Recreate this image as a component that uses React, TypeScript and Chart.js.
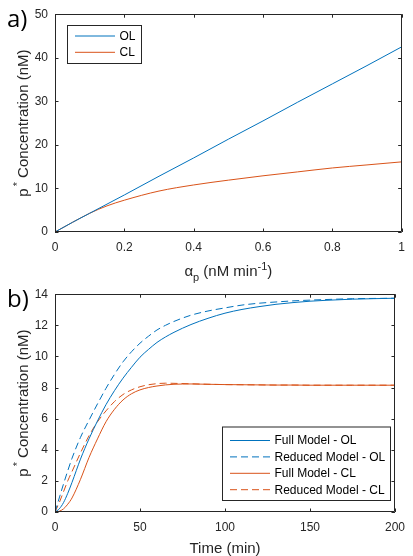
import React, { useEffect, useRef } from "react";
import { Chart, registerables } from "chart.js";
Chart.register(...registerables);

// ---- Panel a) data ----
const alphaP = [0, 0.05, 0.1, 0.15, 0.2, 0.3, 0.4, 0.5, 0.6, 0.7, 0.8, 0.9, 1.0];
const olSteady = [0, 2.2, 4.3, 6.4, 8.5, 12.8, 17.0, 21.3, 25.5, 29.8, 34.0, 38.2, 42.5];
const clSteady = [0, 2.2, 4.3, 6.0, 7.3, 9.4, 10.8, 11.9, 12.9, 13.8, 14.7, 15.4, 16.1];
const aXTicks = [0, 0.2, 0.4, 0.6, 0.8, 1];
const aYTicks = [0, 10, 20, 30, 40, 50];

// ---- Panel b) data ----
const timeMin = [0, 2.5, 5, 7.5, 10, 15, 20, 25, 30, 35, 40, 45, 50, 55, 60, 65, 70, 80, 90, 100, 110, 120, 130, 140, 150, 160, 175, 200];
const fullOL = [0, 0.2, 0.6, 1.2, 1.9, 3.4, 4.7, 5.85, 6.9, 7.8, 8.6, 9.3, 9.95, 10.45, 10.9, 11.25, 11.55, 12.05, 12.45, 12.78, 13.02, 13.2, 13.35, 13.46, 13.55, 13.61, 13.68, 13.74];
const reducedOL = [0, 0.9, 1.8, 2.65, 3.45, 4.8, 5.9, 6.95, 7.95, 8.85, 9.65, 10.3, 10.85, 11.3, 11.7, 12.0, 12.25, 12.65, 12.92, 13.12, 13.3, 13.42, 13.5, 13.57, 13.62, 13.66, 13.71, 13.74];
const fullCL = [0, 0.05, 0.2, 0.5, 0.9, 2.1, 3.5, 4.7, 5.8, 6.6, 7.2, 7.6, 7.85, 8.0, 8.1, 8.17, 8.21, 8.23, 8.21, 8.19, 8.18, 8.17, 8.16, 8.16, 8.15, 8.15, 8.15, 8.15];
const reducedCL = [0, 0.6, 1.3, 2.0, 2.6, 3.8, 4.9, 5.8, 6.5, 7.1, 7.55, 7.85, 8.05, 8.18, 8.25, 8.28, 8.27, 8.24, 8.21, 8.19, 8.18, 8.17, 8.16, 8.16, 8.15, 8.15, 8.15, 8.15];
const bXTicks = [0, 50, 100, 150, 200];
const bYTicks = [0, 2, 4, 6, 8, 10, 12, 14];

const BLUE = "#0072BD";
const ORANGE = "#D95319";
const AXIS = "#262626";
const FAM = '"Liberation Sans", Arial, Helvetica, sans-serif';
const font = (s: number) => `${s}px ${FAM}`;

type Part = { t: string; s: number; dy?: number; dx?: number };

function drawRich(ctx: CanvasRenderingContext2D, parts: Part[], cx: number, base: number, rotate: boolean) {
  ctx.save();
  ctx.translate(cx, base);
  if (rotate) ctx.rotate(-Math.PI / 2);
  let w = 0;
  for (const p of parts) {
    ctx.font = font(p.s);
    w += ctx.measureText(p.t).width + (p.dx || 0);
  }
  let x = -w / 2;
  ctx.textAlign = "left";
  ctx.textBaseline = "alphabetic";
  ctx.fillStyle = AXIS;
  for (const p of parts) {
    ctx.font = font(p.s);
    x += p.dx || 0;
    ctx.fillText(p.t, x, p.dy || 0);
    x += ctx.measureText(p.t).width;
  }
  ctx.restore();
}

type FrameCfg = {
  tick: number;
  legendBox: { x: number; y: number; w: number; h: number };
  lineX0: number;
  lineX1: number;
  textX: number;
  rowY: number[];
  xTitle: Part[];
  xTitleBase: number;
  yTitle: Part[];
  yTitleBase: number;
  panel: string;
  panelBase: number;
};

function framePlugin(cfg: FrameCfg) {
  return {
    id: "matlabFrame",
    afterDraw(chart: any) {
      const ctx: CanvasRenderingContext2D = chart.ctx;
      const { left, right, top, bottom } = chart.chartArea;
      const xs = chart.scales.x;
      const ys = chart.scales.y;
      ctx.save();
      ctx.strokeStyle = AXIS;
      ctx.lineWidth = 1;
      ctx.beginPath();
      ctx.rect(Math.round(left) + 0.5, Math.round(top) + 0.5, Math.round(right - left) - 1, Math.round(bottom - top) - 1);
      ctx.stroke();
      ctx.beginPath();
      for (const t of xs.ticks) {
        const px = Math.round(xs.getPixelForValue(t.value)) + 0.5;
        ctx.moveTo(px, bottom);
        ctx.lineTo(px, bottom - cfg.tick);
        ctx.moveTo(px, top);
        ctx.lineTo(px, top + cfg.tick);
      }
      for (const t of ys.ticks) {
        const py = Math.round(ys.getPixelForValue(t.value)) + 0.5;
        ctx.moveTo(left, py);
        ctx.lineTo(left + cfg.tick, py);
        ctx.moveTo(right, py);
        ctx.lineTo(right - cfg.tick, py);
      }
      ctx.stroke();

      // legend
      const b = cfg.legendBox;
      ctx.fillStyle = "#ffffff";
      ctx.fillRect(b.x, b.y, b.w, b.h);
      ctx.strokeStyle = AXIS;
      ctx.strokeRect(b.x + 0.5, b.y + 0.5, b.w, b.h);
      chart.data.datasets.forEach((ds: any, i: number) => {
        const y = cfg.rowY[i];
        ctx.save();
        ctx.strokeStyle = ds.borderColor;
        ctx.lineWidth = ds.borderWidth;
        ctx.setLineDash(ds.borderDash || []);
        ctx.beginPath();
        ctx.moveTo(cfg.lineX0, y);
        ctx.lineTo(cfg.lineX1, y);
        ctx.stroke();
        ctx.restore();
        ctx.fillStyle = "#000000";
        ctx.font = font(12);
        ctx.textAlign = "left";
        ctx.textBaseline = "middle";
        ctx.fillText(ds.label, cfg.textX, y + 0.5);
      });

      // axis titles
      drawRich(ctx, cfg.xTitle, (left + right) / 2, cfg.xTitleBase, false);
      drawRich(ctx, cfg.yTitle, cfg.yTitleBase, (top + bottom) / 2, true);

      // panel label
      ctx.fillStyle = "#000000";
      ctx.font = '24px "Open Sans", "Noto Sans", sans-serif';
      ctx.textAlign = "left";
      ctx.textBaseline = "alphabetic";
      ctx.fillText(cfg.panel, 7, cfg.panelBase);
      ctx.restore();
    },
  };
}

const yTitleParts: Part[] = [
  { t: "p", s: 15 },
  { t: "*", s: 11, dy: -7, dx: 2 },
  { t: " Concentration (nM)", s: 15 },
];

function fmt(v: number) {
  return String(Number(Number(v).toFixed(2)));
}

function makeOptions(xMin: number, xMax: number, xStep: number, yMin: number, yMax: number, yStep: number, xHeight: number) {
  return {
    responsive: false,
    animation: false as const,
    devicePixelRatio: 1,
    layout: { padding: { left: 0, top: 12, right: 11, bottom: 0 } },
    plugins: { legend: { display: false }, tooltip: { enabled: false }, title: { display: false } },
    elements: { point: { radius: 0 } },
    scales: {
      x: {
        type: "linear" as const,
        min: xMin,
        max: xMax,
        grid: { display: false, drawTicks: false },
        border: { display: false },
        ticks: {
          stepSize: xStep,
          autoSkip: false,
          maxRotation: 0,
          padding: 8,
          color: AXIS,
          font: { family: FAM, size: 12 },
          callback: (v: any) => fmt(v),
        },
        afterFit: (s: any) => {
          s.height = xHeight;
        },
      },
      y: {
        type: "linear" as const,
        min: yMin,
        max: yMax,
        grid: { display: false, drawTicks: false },
        border: { display: false },
        ticks: {
          stepSize: yStep,
          autoSkip: false,
          padding: 7,
          color: AXIS,
          font: { family: FAM, size: 12 },
          callback: (v: any) => fmt(v),
        },
        afterFit: (s: any) => {
          s.width = 55;
        },
      },
    },
  };
}

const pts = (xs: number[], ys: number[]) => xs.map((x, i) => ({ x, y: ys[i] }));

export default function App() {
  const refA = useRef<HTMLCanvasElement>(null);
  const refB = useRef<HTMLCanvasElement>(null);

  useEffect(() => {
    document.body.style.margin = "0";
    const common = { pointRadius: 0, borderWidth: 1, cubicInterpolationMode: "monotone" as const, fill: false };
    const chartA = new Chart(refA.current!, {
      type: "line",
      data: {
        datasets: [
          { ...common, label: "OL", data: pts(alphaP, olSteady), borderColor: BLUE },
          { ...common, label: "CL", data: pts(alphaP, clSteady), borderColor: ORANGE },
        ],
      },
      options: makeOptions(aXTicks[0], aXTicks[aXTicks.length - 1], aXTicks[1] - aXTicks[0], aYTicks[0], aYTicks[aYTicks.length - 1], aYTicks[1] - aYTicks[0], 58) as any,
      plugins: [
        framePlugin({
          tick: 3.5,
          legendBox: { x: 67, y: 25, w: 74, h: 38 },
          lineX0: 75,
          lineX1: 115,
          textX: 119.5,
          rowY: [36, 52.3],
          xTitle: [
            { t: "α", s: 15 },
            { t: "p", s: 11, dy: 5 },
            { t: " (nM min", s: 15 },
            { t: "-1", s: 11, dy: -6 },
            { t: ")", s: 15 },
          ],
          xTitleBase: 276,
          yTitle: yTitleParts,
          yTitleBase: 28,
          panel: "a)",
          panelBase: 27,
        }) as any,
      ],
    });

    const chartB = new Chart(refB.current!, {
      type: "line",
      data: {
        datasets: [
          { ...common, label: "Full Model - OL", data: pts(timeMin, fullOL), borderColor: BLUE },
          { ...common, label: "Reduced Model - OL", data: pts(timeMin, reducedOL), borderColor: BLUE, borderDash: [7, 4] },
          { ...common, label: "Full Model - CL", data: pts(timeMin, fullCL), borderColor: ORANGE },
          { ...common, label: "Reduced Model - CL", data: pts(timeMin, reducedCL), borderColor: ORANGE, borderDash: [7, 4] },
        ],
      },
      options: makeOptions(bXTicks[0], bXTicks[bXTicks.length - 1], bXTicks[1] - bXTicks[0], bYTicks[0], bYTicks[bYTicks.length - 1], bYTicks[1] - bYTicks[0], 44) as any,
      plugins: [
        framePlugin({
          tick: 3.5,
          legendBox: { x: 222, y: 146.5, w: 168, h: 73.5 },
          lineX0: 230,
          lineX1: 270,
          textX: 274.5,
          rowY: [160.5, 176.9, 193.3, 209.7],
          xTitle: [{ t: "Time (min)", s: 15 }],
          xTitleBase: 272.7,
          yTitle: yTitleParts,
          yTitleBase: 28,
          panel: "b)",
          panelBase: 27,
        }) as any,
      ],
    });

    return () => {
      chartA.destroy();
      chartB.destroy();
    };
  }, []);

  return (
    <div style={{ position: "fixed", left: 0, top: 0, width: 413, height: 556, background: "#ffffff" }}>
      <canvas ref={refA} width={413} height={290} style={{ position: "absolute", left: 0, top: 0, width: 413, height: 290 }} />
      <canvas ref={refB} width={413} height={276} style={{ position: "absolute", left: 0, top: 280, width: 413, height: 276 }} />
    </div>
  );
}
